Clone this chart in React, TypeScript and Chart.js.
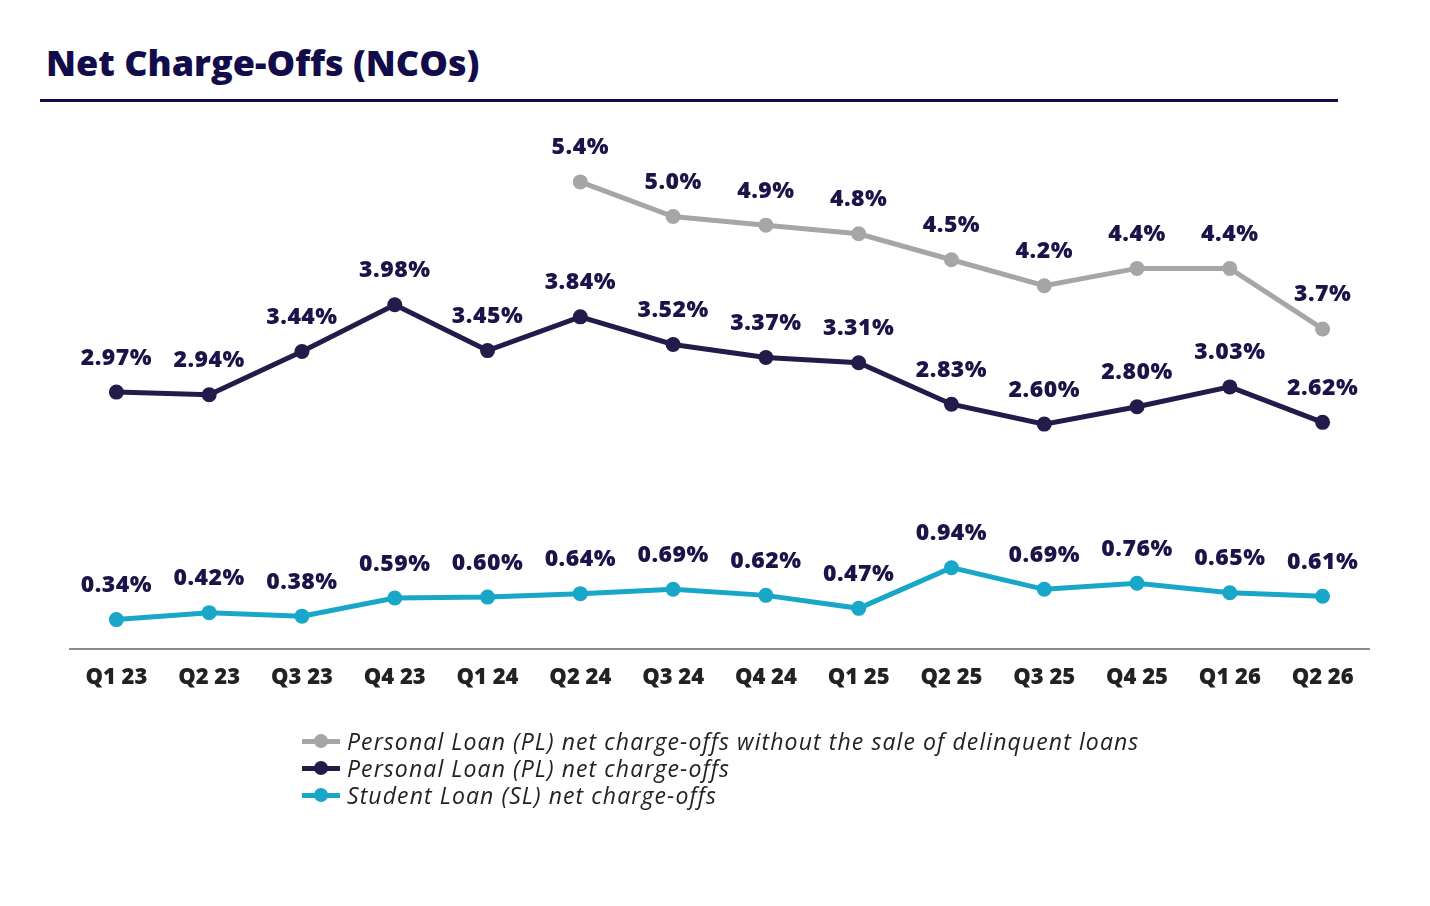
import React, { useEffect, useRef } from 'react';
import { Chart, registerables, Plugin } from 'chart.js';

Chart.register(...registerables);

const quarters = ['Q1 23', 'Q2 23', 'Q3 23', 'Q4 23', 'Q1 24', 'Q2 24', 'Q3 24', 'Q4 24', 'Q1 25', 'Q2 25', 'Q3 25', 'Q4 25', 'Q1 26', 'Q2 26'];
const plWithoutSale = [null, null, null, null, null, 5.4, 5.0, 4.9, 4.8, 4.5, 4.2, 4.4, 4.4, 3.7];
const plNcos = [2.97, 2.94, 3.44, 3.98, 3.45, 3.84, 3.52, 3.37, 3.31, 2.83, 2.60, 2.80, 3.03, 2.62];
const slNcos = [0.34, 0.42, 0.38, 0.59, 0.60, 0.64, 0.69, 0.62, 0.47, 0.94, 0.69, 0.76, 0.65, 0.61];

const NAVY = '#221c4b';
const LABEL = '#1a1448';
const GRAY = '#a6a6a6';
const CYAN = '#18a7c9';
const FONT = "'Open Sans', 'DejaVu Sans', sans-serif";

const series = [
	{ label: 'Personal Loan (PL) net charge-offs without the sale of delinquent loans', data: plWithoutSale, color: GRAY, digits: 1 },
	{ label: 'Personal Loan (PL) net charge-offs', data: plNcos, color: NAVY, digits: 2 },
	{ label: 'Student Loan (SL) net charge-offs', data: slNcos, color: CYAN, digits: 2 },
];

// draws the value above every point
const valueLabels: Plugin<'line'> = {
	id: 'valueLabels',
	afterDatasetsDraw(chart) {
		const ctx = chart.ctx as any;
		ctx.save();
		ctx.font = `800 23px ${FONT}`;
		ctx.letterSpacing = '0.5px';
		ctx.fillStyle = LABEL;
		ctx.textAlign = 'center';
		ctx.textBaseline = 'middle';
		chart.data.datasets.forEach((ds, i) => {
			const digits = series[i].digits;
			chart.getDatasetMeta(i).data.forEach((pt, j) => {
				const v = ds.data[j] as number | null;
				if (v == null) return;
				ctx.fillText(`${v.toFixed(digits)}%`, pt.x, pt.y - 34);
			});
		});
		ctx.restore();
	},
};

export default function App() {
	const canvas = useRef<HTMLCanvasElement>(null!);

	useEffect(() => {
		document.body.style.margin = '0';
		const chart = new Chart(canvas.current, {
			type: 'line',
			data: {
				labels: quarters,
				datasets: series.map(s => ({
					label: s.label,
					data: s.data,
					borderColor: s.color,
					backgroundColor: s.color,
					pointBackgroundColor: s.color,
					pointBorderWidth: 0,
					pointRadius: 7.5,
					borderWidth: 5,
					tension: 0,
					spanGaps: false,
				})),
			},
			options: {
				animation: false,
				responsive: false,
				layout: { padding: { left: 70, right: 61, top: 130, bottom: 197 } },
				plugins: {
					legend: { display: false },
					tooltip: { enabled: false },
				},
				scales: {
					y: { display: false, min: 0, max: 6 },
					x: {
						offset: true,
						grid: { display: false, drawTicks: false },
						border: { display: true, color: '#8c8c8c', width: 2 },
						ticks: {
							color: '#222222',
							font: { family: FONT, size: 22, weight: 800 },
							padding: 16,
							maxRotation: 0,
						},
						afterFit: (s: any) => { s.height = 60; },
					},
				},
			},
			plugins: [valueLabels],
		});
		return () => chart.destroy();
	}, []);

	return <div style={{ position: 'relative', width: 1430, height: 906, background: '#fff', fontFamily: FONT }}>
		<div style={{ position: 'absolute', left: 46, top: 38, fontSize: 36, fontWeight: 800, color: '#120d4a' }}>
			Net Charge-Offs (NCOs)
		</div>
		<div style={{ position: 'absolute', left: 40, top: 99, width: 1298, height: 3, background: '#120d4a' }}></div>
		<canvas ref={canvas} width={1430} height={906} style={{ position: 'absolute', left: 0, top: 0 }}></canvas>
		<div style={{ position: 'absolute', left: 302, top: 727 }}>
			{series.map((s, i) => (
				<div key={i} style={{ display: 'flex', alignItems: 'center', height: 27 }}>
					<div style={{ position: 'relative', width: 38, height: 14, marginRight: 7 }}>
						<div style={{ position: 'absolute', left: 0, top: 5, width: 38, height: 5, background: s.color }}></div>
						<div style={{ position: 'absolute', left: 12, top: 0, width: 14, height: 14, borderRadius: 7, background: s.color }}></div>
					</div>
					<div style={{ fontStyle: 'italic', fontSize: 23, letterSpacing: '1.1px', color: '#222222', whiteSpace: 'nowrap' }}>{s.label}</div>
				</div>
			))}
		</div>
	</div>;
}
